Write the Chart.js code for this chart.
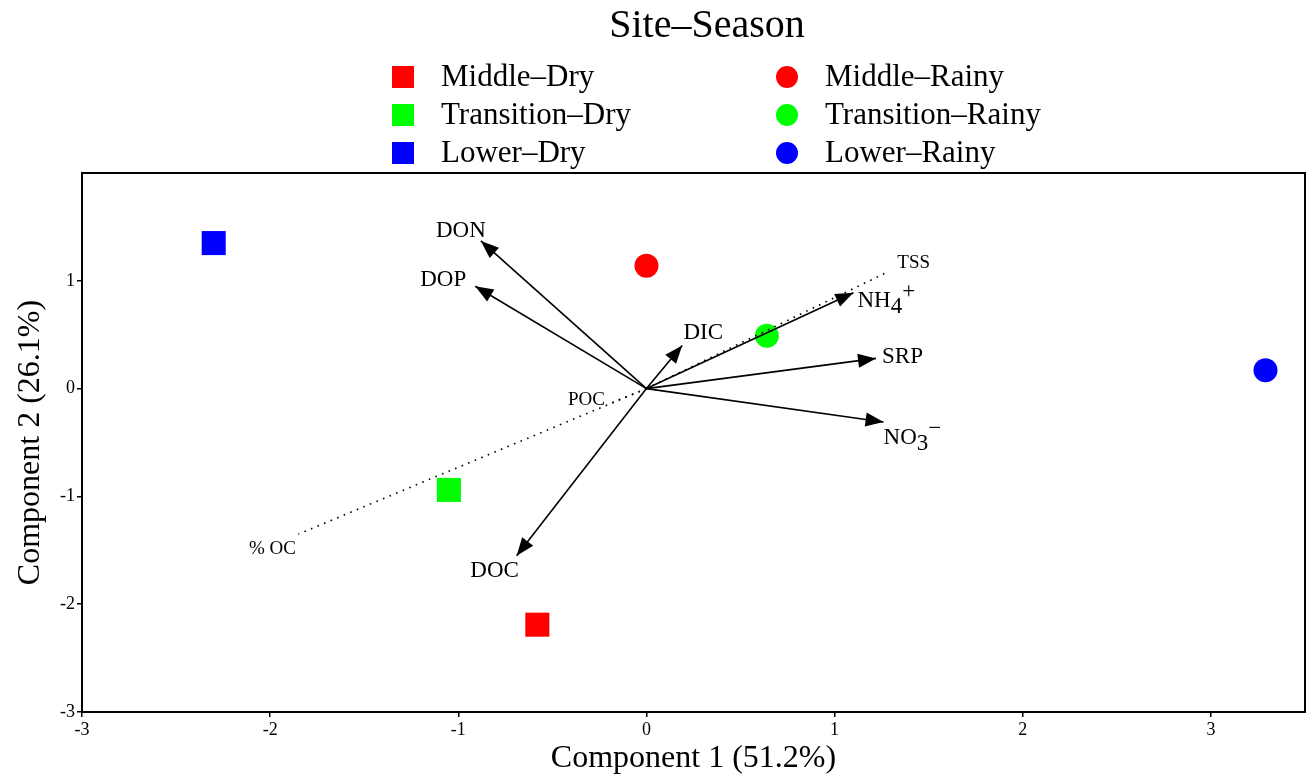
<!DOCTYPE html>
<html>
<head>
<meta charset="utf-8">
<script src="https://cdn.jsdelivr.net/npm/chart.js@4.4.1/dist/chart.umd.min.js"></script>
<style>
  body { margin: 0; background: #fff; }
  #wrap { width: 1308px; height: 778px; position: relative; }
</style>
</head>
<body>
<div id="wrap"><canvas id="pcaChart"></canvas></div>
<script>
// Site scores (component 1 / component 2)
const siteSeasons = ['Middle–Dry', 'Transition–Dry', 'Lower–Dry', 'Middle–Rainy', 'Transition–Rainy', 'Lower–Rainy'];
const scoreX = [-0.58, -1.05, -2.30, 0.00, 0.64, 3.29];
const scoreY = [-2.19, -0.94, 1.35, 1.14, 0.49, 0.17];
const pointColors = ['#ff0000', '#00ff00', '#0000ff', '#ff0000', '#00ff00', '#0000ff'];
const pointShapes = ['rect', 'rect', 'rect', 'circle', 'circle', 'circle'];

// Variable loadings drawn as arrows
const loadingNames = ['DON', 'DOP', 'DIC', 'NH4+', 'SRP', 'NO3-', 'DOC'];
const loadingX = [-0.88, -0.91, 0.19, 1.10, 1.22, 1.26, -0.69];
const loadingY = [1.37, 0.95, 0.40, 0.89, 0.28, -0.31, -1.55];

// Supplementary variables drawn as dotted lines
const suppNames = ['TSS', 'POC', '% OC'];
const suppX = [1.28, -0.21, -1.85];
const suppY = [1.08, -0.15, -1.35];

const xTicks = [-3, -2, -1, 0, 1, 2, 3];
const yTicks = [-3, -2, -1, 0, 1];

const serif = '"Liberation Serif", "Times New Roman", serif';

// label placement relative to the end of each vector (pixels)
const loadingLabelPos = {
    'DON': [-20, -10, 'center'],
    'DOP': [-32, -6, 'center'],
    'DIC': [21, -13, 'center'],
    'NH4+': [4, 8, 'left'],
    'SRP': [6, -1, 'left'],
    'NO3-': [0, 16, 'left'],
    'DOC': [-22, 15, 'center']
};
const suppLabelPos = {
    'TSS': [10, -9, 'left'],
    'POC': [-2, -5, 'right'],
    '% OC': [-26, 15, 'center']
};

const datasets = [];

siteSeasons.forEach((name, i) => {
    datasets.push({
        label: name,
        data: [{ x: scoreX[i], y: scoreY[i] }],
        backgroundColor: pointColors[i],
        borderColor: pointColors[i],
        borderWidth: 0,
        pointStyle: pointShapes[i],
        pointRadius: pointShapes[i] === 'rect' ? 17 : 12,
        order: 1
    });
});

loadingNames.forEach((name, i) => {
    datasets.push({
        label: name,
        kind: 'arrow',
        data: [{ x: 0, y: 0 }, { x: loadingX[i], y: loadingY[i] }],
        showLine: true,
        borderColor: '#000',
        borderWidth: 1.6,
        pointRadius: 0,
        order: 0
    });
});

suppNames.forEach((name, i) => {
    datasets.push({
        label: name,
        kind: 'dotted',
        data: [{ x: 0, y: 0 }, { x: suppX[i], y: suppY[i] }],
        showLine: true,
        borderColor: '#000',
        borderWidth: 1.6,
        borderDash: [1.6, 5.5],
        pointRadius: 0,
        order: 0
    });
});

// draw text with sub/superscript pieces
function drawLabel(ctx, name, x, y, align, size) {
    let parts;
    if (name === 'NH4+') parts = [['NH', 0], ['4', 6], ['+', -9]];
    else if (name === 'NO3-') parts = [['NO', 0], ['3', 6], ['\u2212', -9]];
    else parts = [[name, 0]];
    ctx.font = size + 'px ' + serif;
    let total = 0;
    parts.forEach(p => { total += ctx.measureText(p[0]).width; });
    let start = x;
    if (align === 'center') start = x - total / 2;
    if (align === 'right') start = x - total;
    ctx.textAlign = 'left';
    ctx.textBaseline = 'middle';
    parts.forEach(p => {
        ctx.fillText(p[0], start, y + p[1]);
        start += ctx.measureText(p[0]).width;
    });
}

const biplotExtras = {
    id: 'biplotExtras',
    afterDatasetsDraw(chart) {
        const ctx = chart.ctx;
        const xs = chart.scales.x, ys = chart.scales.y;
        const area = chart.chartArea;
        ctx.save();
        ctx.fillStyle = '#000';
        chart.data.datasets.forEach(ds => {
            if (!ds.kind) return;
            const end = ds.data[1];
            const px = xs.getPixelForValue(end.x);
            const py = ys.getPixelForValue(end.y);
            if (ds.kind === 'arrow') {
                const ox = xs.getPixelForValue(0), oy = ys.getPixelForValue(0);
                const ang = Math.atan2(py - oy, px - ox);
                const len = 18, half = 7;
                ctx.beginPath();
                ctx.moveTo(px, py);
                ctx.lineTo(px - len * Math.cos(ang) + half * Math.sin(ang), py - len * Math.sin(ang) - half * Math.cos(ang));
                ctx.lineTo(px - len * Math.cos(ang) - half * Math.sin(ang), py - len * Math.sin(ang) + half * Math.cos(ang));
                ctx.closePath();
                ctx.fill();
                const pos = loadingLabelPos[ds.label];
                drawLabel(ctx, ds.label, px + pos[0], py + pos[1], pos[2], 23);
            } else {
                const pos = suppLabelPos[ds.label];
                drawLabel(ctx, ds.label, px + pos[0], py + pos[1], pos[2], 19);
            }
        });
        // frame round the plot area
        ctx.strokeStyle = '#000';
        ctx.lineWidth = 2;
        ctx.strokeRect(area.left, area.top, area.right - area.left, area.bottom - area.top);
        ctx.restore();
    },
    afterDraw(chart) {
        // legend: two columns (Dry / Rainy), three rows
        const ctx = chart.ctx;
        ctx.save();
        ctx.fillStyle = '#000';
        ctx.font = '40px ' + serif;
        ctx.textAlign = 'center';
        ctx.textBaseline = 'middle';
        ctx.fillText('Site\u2013Season', 707, 26);
        const colX = [403, 787];
        const rowY = [77, 115, 153];
        siteSeasons.forEach((name, i) => {
            const col = pointShapes[i] === 'rect' ? 0 : 1;
            const row = i % 3;
            const cx = colX[col], cy = rowY[row];
            ctx.fillStyle = pointColors[i];
            ctx.beginPath();
            if (pointShapes[i] === 'rect') ctx.rect(cx - 11, cy - 11, 22, 22);
            else ctx.arc(cx, cy, 11, 0, Math.PI * 2);
            ctx.fill();
            ctx.fillStyle = '#000';
            ctx.font = '31px ' + serif;
            ctx.textAlign = 'left';
            ctx.fillText(name, cx + 38, cy + 1);
        });
        ctx.restore();
    }
};

new Chart(document.getElementById('pcaChart'), {
    type: 'scatter',
    data: { datasets: datasets },
    options: {
        responsive: true,
        maintainAspectRatio: false,
        animation: false,
        layout: { autoPadding: false, padding: { top: 173, right: 3, left: 0, bottom: 0 } },
        plugins: {
            legend: { display: false },
            tooltip: { enabled: false }
        },
        scales: {
            x: {
                type: 'linear',
                min: -3,
                max: 3.5,
                afterBuildTicks: axis => { axis.ticks = xTicks.map(v => ({ value: v })); },
                afterFit: axis => { axis.height = 66; axis.paddingLeft = 0; axis.paddingRight = 0; },
                grid: { drawOnChartArea: false, drawTicks: true, tickLength: 5, color: '#000', lineWidth: 1.5 },
                border: { display: false },
                ticks: { color: '#000', font: { family: serif, size: 18 }, padding: 2 },
                title: { display: true, text: 'Component 1 (51.2%)', color: '#000', font: { family: serif, size: 32 }, padding: { top: 0, bottom: 0 } }
            },
            y: {
                type: 'linear',
                min: -3,
                max: 2,
                afterBuildTicks: axis => { axis.ticks = yTicks.map(v => ({ value: v })); },
                afterFit: axis => { axis.width = 82; axis.paddingTop = 0; axis.paddingBottom = 0; },
                grid: { drawOnChartArea: false, drawTicks: true, tickLength: 5, color: '#000', lineWidth: 1.5 },
                border: { display: false },
                ticks: { color: '#000', font: { family: serif, size: 18 }, padding: 2 },
                title: { display: true, text: 'Component 2 (26.1%)', color: '#000', font: { family: serif, size: 32 }, padding: { top: 11, bottom: 0 } }
            }
        }
    },
    plugins: [biplotExtras]
});
</script>
</body>
</html>
